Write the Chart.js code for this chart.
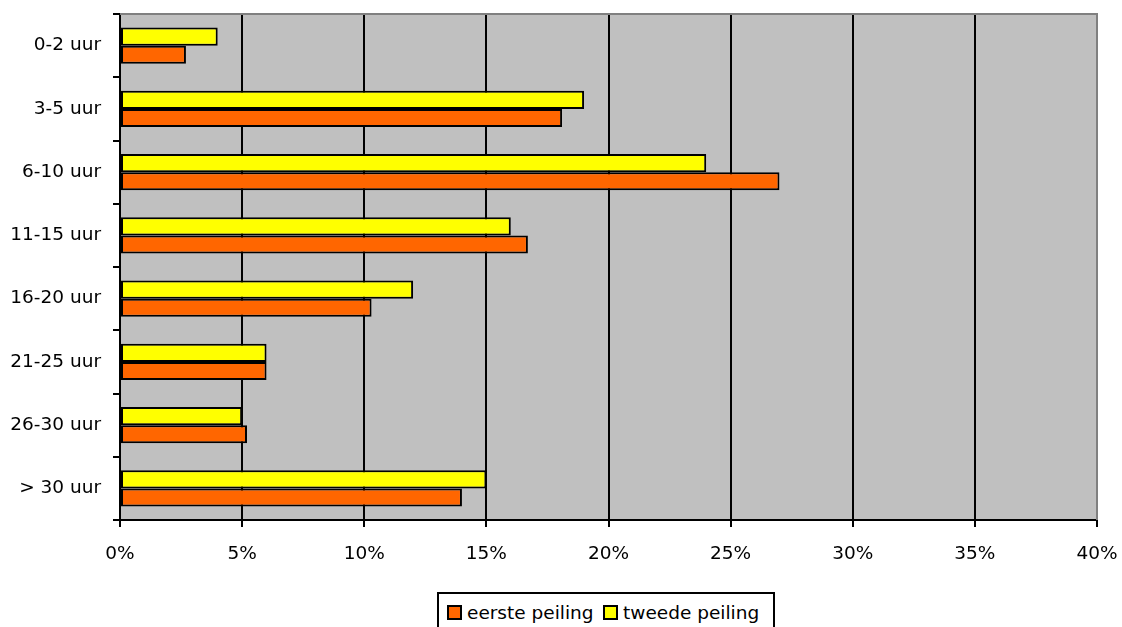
<!DOCTYPE html>
<html>
<head>
<meta charset="utf-8">
<script src="https://cdn.jsdelivr.net/npm/chart.js@4"></script>
<style>
  html, body { margin: 0; padding: 0; background: #fff; overflow: hidden; }
  #wrap { position: relative; width: 1122px; height: 627px; }
  #legend {
    position: absolute; left: 437px; top: 592px; width: 338px; height: 50px;
    border: 2px solid #000; background: #fff; box-sizing: border-box;
    font-family: "DejaVu Sans", sans-serif; font-size: 18.5px; color: #000;
  }
  .item { position: absolute; top: 8px; white-space: nowrap; line-height: 22px; }
  .sw { display: inline-block; width: 11px; height: 11px; border: 2px solid #000; vertical-align: -1px; margin-right: 5px; }
</style>
</head>
<body>
<div id="wrap">
  <canvas id="chart" width="1122" height="627"></canvas>
  <div id="legend">
    <span class="item" style="left:8px"><span class="sw" style="background:#FF6600"></span>eerste peiling</span>
    <span class="item" style="left:164px"><span class="sw" style="background:#FFFF00"></span>tweede peiling</span>
  </div>
</div>
<script>
// categorieën en waarden (in %)
const categories = ['0-2 uur', '3-5 uur', '6-10 uur', '11-15 uur', '16-20 uur', '21-25 uur', '26-30 uur', '> 30 uur'];
const eerstePeiling = [2.7, 18.1, 27, 16.7, 10.3, 6, 5.2, 14];
const tweedePeiling = [4, 19, 24, 16, 12, 6, 5, 15];
const xTicks = [0, 5, 10, 15, 20, 25, 30, 35, 40];

const font = { family: 'DejaVu Sans', size: 18.5 };

// grijze achtergrond + rand van het plotgebied
const plotArea = {
  id: 'plotArea',
  beforeDraw(chart) {
    const a = chart.chartArea, c = chart.ctx;
    c.save();
    c.fillStyle = '#C0C0C0';
    c.fillRect(a.left, a.top, a.right - a.left, a.bottom - a.top);
    c.restore();
  },
  afterDraw(chart) {
    const a = chart.chartArea, c = chart.ctx;
    c.save();
    c.strokeStyle = '#808080';
    c.lineWidth = 2;
    c.beginPath();
    c.moveTo(a.left, a.top);
    c.lineTo(a.right, a.top);
    c.lineTo(a.right, a.bottom);
    c.stroke();
    c.restore();
  }
};

new Chart(document.getElementById('chart'), {
  type: 'bar',
  data: {
    labels: categories,
    datasets: [
      { label: 'tweede peiling', data: tweedePeiling, backgroundColor: '#FFFF00', borderColor: '#000', borderWidth: 2, borderSkipped: false },
      { label: 'eerste peiling', data: eerstePeiling, backgroundColor: '#FF6600', borderColor: '#000', borderWidth: 2, borderSkipped: false }
    ]
  },
  options: {
    indexAxis: 'y',
    responsive: false,
    animation: false,
    categoryPercentage: 0.57,
    barPercentage: 1,
    layout: { padding: { top: 14, right: 25, left: 0, bottom: 0 } },
    plugins: { legend: { display: false }, tooltip: { enabled: false } },
    scales: {
      x: {
        min: 0, max: 40,
        afterBuildTicks: s => { s.ticks = xTicks.map(v => ({ value: v })); },
        afterFit: s => { s.height = 107; s.paddingLeft = 0; s.paddingRight = 0; },
        border: { color: '#000', width: 2 },
        grid: {
          color: ctx => (ctx.tick && ctx.tick.value === 40 ? '#808080' : '#000'),
          lineWidth: 2,
          tickColor: '#000',
          tickLength: 7
        },
        ticks: { font: font, color: '#000', padding: 16, callback: v => v + '%' }
      },
      y: {
        afterFit: s => { s.width = 120; s.paddingTop = 0; s.paddingBottom = 0; },
        border: { color: '#000', width: 2 },
        grid: { drawOnChartArea: false, color: '#000', lineWidth: 2, tickLength: 7, offset: true },
        ticks: { font: font, color: '#000', padding: 12 }
      }
    }
  },
  plugins: [plotArea]
});
</script>
</body>
</html>
